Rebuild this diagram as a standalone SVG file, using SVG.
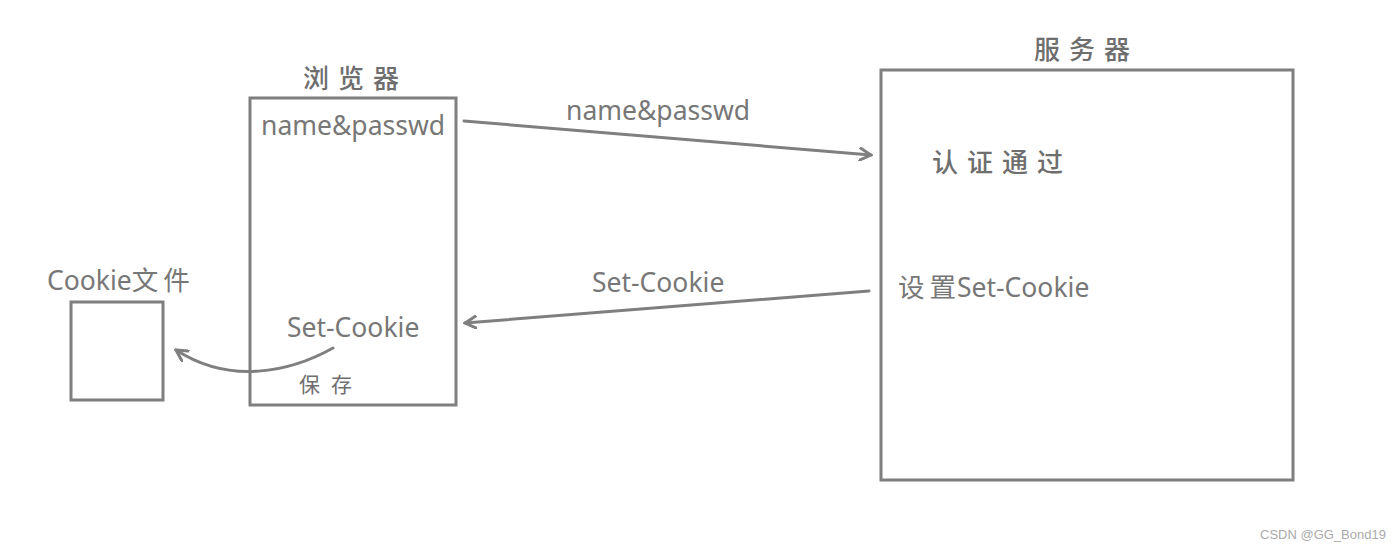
<svg xmlns="http://www.w3.org/2000/svg" width="1400" height="550" viewBox="0 0 1400 550">
<defs>
<style>
.box{fill:none;stroke:#7f7f7f;stroke-width:3}
.con{fill:none;stroke:#7f7f7f;stroke-width:3;stroke-linecap:round}
.t{font-family:"Noto Sans","Noto Sans CJK SC",sans-serif;font-size:26.5px;fill:#777777}
.cn{font-family:"Noto Sans CJK SC",serif;font-size:26px;font-weight:500;fill:#6e6e6e;letter-spacing:9px}
.sp{font-family:"Noto Sans CJK SC",sans-serif;letter-spacing:5px}
.wm{font-family:"Liberation Sans",sans-serif;font-size:13px;fill:#aaaaaa}
</style>
<marker id="arr" markerWidth="14" markerHeight="14" refX="12" refY="7" orient="auto" markerUnits="userSpaceOnUse">
<path d="M1,1 L12,7 L1,13" fill="none" stroke="#7f7f7f" stroke-width="3" stroke-linecap="round"/>
</marker>
</defs>
<rect width="1400" height="550" fill="#ffffff"/>
<g id="browser">
<rect class="box" x="250" y="98" width="206" height="307"/>
<text class="cn" x="303" y="88">浏览器</text>
<text class="t" x="261" y="135">name&amp;passwd</text>
<text class="t" x="287" y="337">Set-Cookie</text>
<text class="cn" x="299" y="392" style="font-size:21px;letter-spacing:11px;font-weight:normal">保存</text>
</g>
<g id="server">
<rect class="box" x="881" y="70" width="412" height="410"/>
<text class="cn" x="1034" y="59">服务器</text>
<text class="cn" x="932" y="172">认证通过</text>
<text class="t" x="898" y="297"><tspan class="sp">设置</tspan><tspan dx="-4">Set-Cookie</tspan></text>
</g>
<g id="cookie">
<rect class="box" x="71" y="302" width="92" height="98"/>
<text class="t" x="47" y="290">Cookie<tspan class="sp">文件</tspan></text>
</g>
<g id="connectors">
<line class="con" x1="464" y1="121" x2="871" y2="155" marker-end="url(#arr)"/>
<text class="t" x="566" y="120">name&amp;passwd</text>
<line class="con" x1="869" y1="291" x2="465" y2="323" marker-end="url(#arr)"/>
<text class="t" x="592" y="292">Set-Cookie</text>
<path class="con" d="M333,348 C290,372 230,385 176,350" marker-end="url(#arr)"/>
</g>
<text class="wm" x="1260" y="539">CSDN @GG_Bond19</text>
</svg>
